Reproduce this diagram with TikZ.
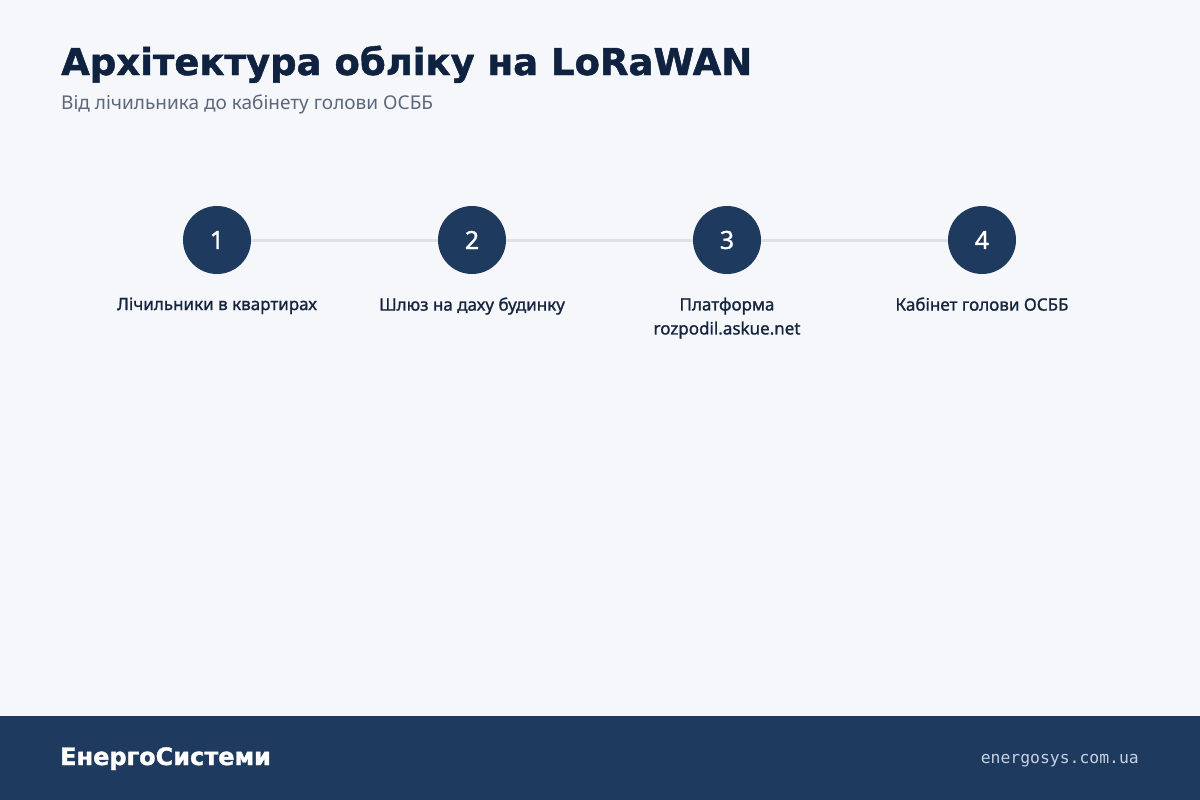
\documentclass[tikz,border=0pt]{standalone}
\usepackage{fontspec}
\setmainfont{Noto Sans}
\newfontfamily\monofont{DejaVu Sans Mono}
\newfontfamily\heavyfont{DejaVu Sans}[BoldFeatures={FakeBold=1.3}]
\newfontfamily\labfont{Noto Sans}[FakeBold=1.2]
\definecolor{bg}{HTML}{F5F7FB}
\definecolor{navy}{HTML}{1F3A5F}
\definecolor{titlec}{HTML}{0F2340}
\definecolor{subc}{HTML}{5C677A}
\definecolor{linec}{HTML}{DDE1E8}
\definecolor{labc}{HTML}{15253D}
\definecolor{urlc}{HTML}{C5D1E2}
\begin{document}
\begin{tikzpicture}[x=1pt,y=-1pt,
  stepcircle/.style={circle,fill=navy,minimum size=68pt,inner sep=0pt,text=white,font=\labfont\fontsize{25}{25}\selectfont},
  steplabel/.style={text=labc,font=\labfont\fontsize{17}{24}\selectfont,align=center,anchor=north},
  conn/.style={draw=linec,line width=3pt}]
\useasboundingbox (0,0) rectangle (1200,800);
\fill[bg] (0,0) rectangle (1200,800);
\fill[navy] (0,716) rectangle (1200,800);
\node[anchor=base west,inner sep=0pt,text=titlec,font=\heavyfont\bfseries\fontsize{37}{39}\selectfont] (title) at (61,75) {Архітектура обліку на LoRaWAN};
\node[anchor=base west,inner sep=0pt,text=subc,font=\fontsize{19}{19}\selectfont] (sub) at (61,110) {Від лічильника до кабінету голови ОСББ};
\node[stepcircle] (s1) at (217,240) {1};
\node[stepcircle] (s2) at (472,240) {2};
\node[stepcircle] (s3) at (727,240) {3};
\node[stepcircle] (s4) at (982,240) {4};
\draw[conn] (s1) -- (s2);
\draw[conn] (s2) -- (s3);
\draw[conn] (s3) -- (s4);
\node[steplabel] (l1) at (217,294) {Лічильники в квартирах};
\node[steplabel] (l2) at (472,294) {Шлюз на даху будинку};
\node[steplabel] (l3) at (727,294) {Платформа\\rozpodil.askue.net};
\node[steplabel] (l4) at (982,294) {Кабінет голови ОСББ};
\node[anchor=base west,inner sep=0pt,text=white,font=\heavyfont\bfseries\fontsize{24}{24}\selectfont] (brand) at (60,765) {ЕнергоСистеми};
\node[anchor=base east,inner sep=0pt,text=urlc,font=\monofont\fontsize{16.4}{16}\selectfont] (url) at (1139,763) {energosys.com.ua};
\end{tikzpicture}
\end{document}
